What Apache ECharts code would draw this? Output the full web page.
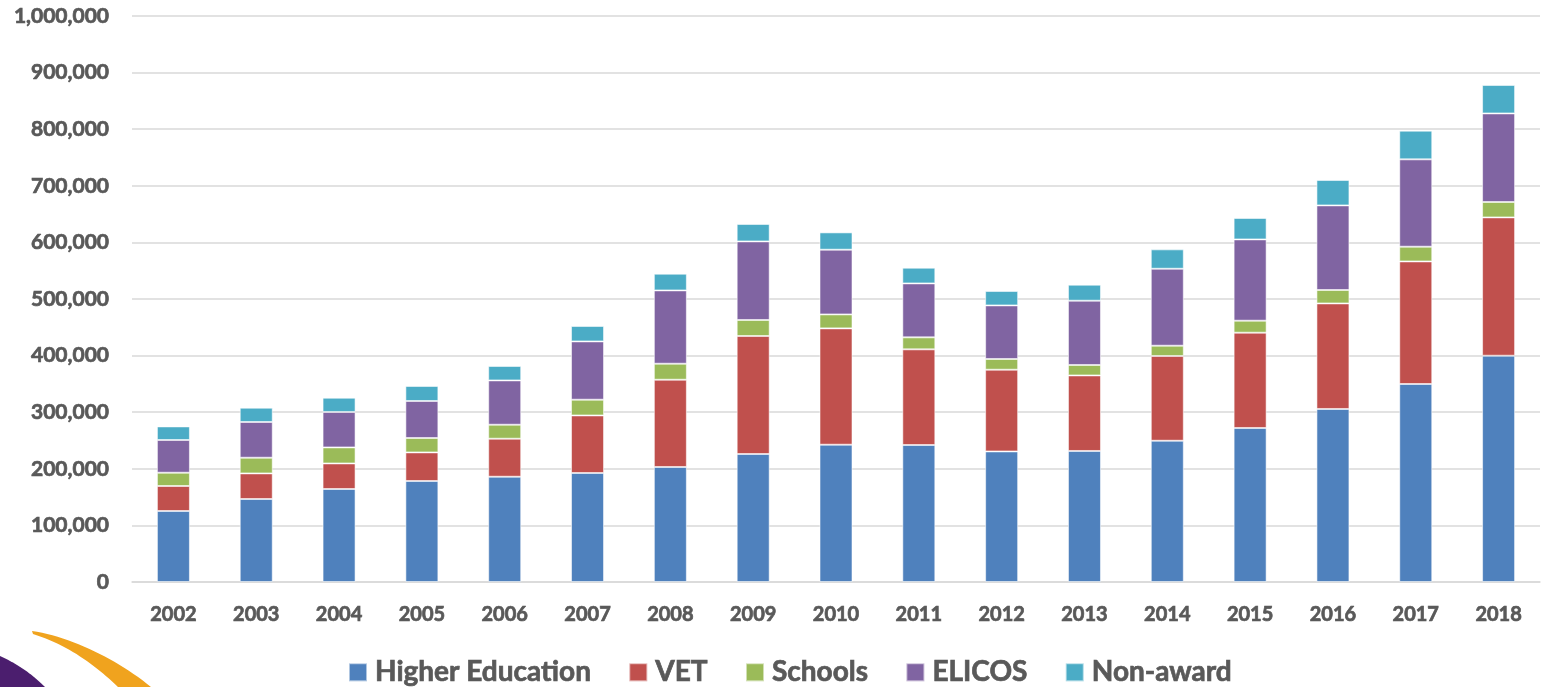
<!DOCTYPE html>
<html>
<head>
<meta charset="utf-8">
<script src="https://cdn.jsdelivr.net/npm/echarts@6/dist/echarts.min.js"></script>
<style>
html,body{margin:0;padding:0;background:#fff;}
#chart{width:1542px;height:687px;}
</style>
</head>
<body>
<div id="chart"></div>
<script>
const years = ['2002','2003','2004','2005','2006','2007','2008','2009','2010','2011','2012','2013','2014','2015','2016','2017','2018'];
const higherEducation = [125400,146600,164300,178400,186000,192600,203200,226100,242600,242000,230700,231500,249600,272100,305700,349800,399800];
const vet = [44200,45300,45200,50600,67200,101700,154200,208500,205500,169000,144400,133500,149700,168400,186500,216600,244400];
const schools = [23500,27700,28300,25400,24700,27800,28300,28300,24700,21200,18900,18400,18200,21200,23700,26000,27200];
const elicos = [57800,63100,62600,65400,78300,103000,129500,138900,114300,95400,94700,113600,136000,143600,149500,154300,156500];
const nonAward = [24000,25300,25200,26500,25400,27200,29500,30700,30600,27700,25400,28300,34200,37800,44800,50700,50200];

const seriesNames = ['Higher Education','VET','Schools','ELICOS','Non-award'];
const seriesData = [higherEducation, vet, schools, elicos, nonAward];
const colors = ['#4F81BD','#C0504D','#9BBB59','#8064A2','#4BACC6'];

// decorative logo swoosh (not data)
function bez(p0, p1, p2, p3, n) {
  const pts = [];
  for (let i = 0; i <= n; i++) {
    const t = i / n, u = 1 - t;
    pts.push([
      u*u*u*p0[0] + 3*u*u*t*p1[0] + 3*u*t*t*p2[0] + t*t*t*p3[0],
      u*u*u*p0[1] + 3*u*u*t*p1[1] + 3*u*t*t*p2[1] + t*t*t*p3[1]
    ]);
  }
  return pts;
}
const purplePts = bez([0,656],[18,664],[33,675],[45,687],20).concat([[0,687]]);
const orangePts = bez([32,631],[72,637],[118,660],[151,687],24).concat(bez([118,687],[95,665],[68,645],[33,634],24));

const chart = echarts.init(document.getElementById('chart'), null, {renderer:'canvas'});
const textColor = '#595959';
const fontFamily = 'Lato, "Open Sans", sans-serif';
const heavy = {textBorderColor: textColor, textBorderWidth: 0.7};

chart.setOption({
  animation: false,
  color: colors,
  grid: {left: 132, right: 2, top: 16, bottom: 105, containLabel: false},
  legend: {
    top: 653,
    left: 343,
    itemWidth: 18,
    itemHeight: 18,
    itemGap: 37,
    icon: 'rect',
    textStyle: Object.assign({color: textColor, fontSize: 28, fontWeight: 'bold', fontFamily: fontFamily, padding: [0,0,0,3]}, heavy),
    data: seriesNames
  },
  xAxis: {
    type: 'category',
    data: years,
    axisLine: {lineStyle: {color: '#d9d9d9', width: 1.5}},
    axisTick: {show: false},
    axisLabel: Object.assign({color: textColor, fontSize: 20, fontWeight: 'bold', fontFamily: fontFamily, margin: 23}, heavy)
  },
  yAxis: {
    type: 'value',
    min: 0,
    max: 1000000,
    interval: 100000,
    axisLine: {show: false},
    axisTick: {show: false},
    splitLine: {lineStyle: {color: '#d9d9d9', width: 1.5}},
    axisLabel: Object.assign({
      color: textColor, fontSize: 21, fontWeight: 'bold', fontFamily: fontFamily, margin: 23,
      formatter: v => v.toLocaleString('en-US')
    }, heavy)
  },
  graphic: [
    {type: 'polygon', silent: true, z: -1, shape: {points: purplePts}, style: {fill: '#4B1E6E'}},
    {type: 'polygon', silent: true, z: -1, shape: {points: orangePts}, style: {fill: '#F0A31E'}}
  ],
  series: seriesNames.map((name, i) => ({
    name: name,
    type: 'bar',
    stack: 'total',
    barWidth: 33,
    data: seriesData[i],
    itemStyle: {color: colors[i], borderColor: 'rgba(255,255,255,0.55)', borderWidth: 1}
  }))
});
</script>
</body>
</html>
